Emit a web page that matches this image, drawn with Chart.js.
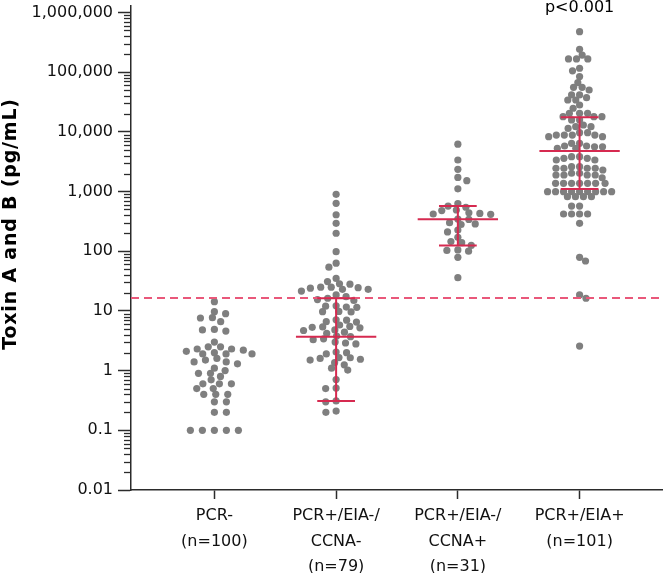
<!DOCTYPE html>
<html>
<head>
<meta charset="utf-8">
<script src="https://cdn.jsdelivr.net/npm/chart.js@4"></script>
<style>
  html, body { margin: 0; padding: 0; background: #fff; }
  #wrap { width: 666px; height: 573px; position: relative; }
</style>
</head>
<body>
<div id="wrap"><canvas id="myChart" width="666" height="573"></canvas></div>
<script>
// category labels (multi-line)
const categories = [
  ['PCR-', '(n=100)'],
  ['PCR+/EIA-/', 'CCNA-', '(n=79)'],
  ['PCR+/EIA-/', 'CCNA+', '(n=31)'],
  ['PCR+/EIA+', '(n=101)']
];

// toxin values (pg/mL)
const pcrNeg = [14.3, 9.7, 9.0, 7.7, 7.6, 6.6, 4.9, 4.8, 4.6, 3.0, 2.5, 2.5, 2.3, 2.3, 2.2, 2.1, 2.0,
  1.9, 1.9, 1.9, 1.6, 1.5, 1.4, 1.4, 1.3, 1.1, 1.0, 0.9, 0.9, 0.8, 0.7, 0.6, 0.6, 0.6, 0.5, 0.5,
  0.4, 0.4, 0.4, 0.3, 0.3, 0.2, 0.2, 0.1, 0.1, 0.1, 0.1, 0.1];
const eiaNegCcnaNeg = [898, 634, 408, 293, 200, 98, 63, 54, 35, 31, 28.5, 28, 25, 25, 24.5, 24, 23, 23,
  21.5, 18.5, 17.3, 16.3, 15.5, 15, 12.2, 12, 11.6, 11.5, 9.8, 9.7, 9.6, 7.1, 7.0, 6.6, 6.5, 5.8, 5.5,
  5.4, 5.3, 5.2, 4.8, 4.7, 4.4, 4.2, 3.8, 3.7, 3.4, 3.3, 3.0, 2.9, 2.8, 2.05, 2.0, 1.9, 1.65, 1.64,
  1.6, 1.55, 1.5, 1.36, 1.25, 1.1, 1.02, 0.71, 0.51, 0.5, 0.31, 0.3, 0.21, 0.2];
const eiaNegCcnaPos = [6200, 3370, 2350, 1720, 1520, 1110, 630, 571, 545, 490, 480, 440, 430, 420, 415,
  345, 340, 300, 286, 280, 226, 210, 171, 145, 139, 125, 105, 103, 100, 79, 36];
const eiaPos = [475000, 241000, 193000, 166000, 166000, 166000, 116000, 105000, 84000, 66500, 55600, 55600,
  50100, 41400, 41400, 37300, 34100, 34100, 28100, 24800, 20400, 20400, 20400, 17900, 17900, 17900,
  15800, 15800, 13000, 12200, 12200, 11400, 9660, 9660, 8830, 8830, 8830, 8830, 8280, 8280, 6410, 6410,
  5780, 5780, 5620, 5620, 5280, 5280, 3830, 3830, 3600, 3600, 3370, 3370, 2610, 2610, 2450, 2450, 2450,
  2450, 2290, 2020, 2020, 1890, 1890, 1890, 1890, 1700, 1370, 1370, 1370, 1370, 1370, 1370, 1370,
  993, 993, 993, 993, 993, 993, 993, 993, 993, 819, 819, 819, 819, 571, 571, 420, 420, 420, 420, 293,
  79, 68.5, 18.5, 16.3, 2.58];
const groups = [pcrNeg, eiaNegCcnaNeg, eiaNegCcnaPos, eiaPos];

// median and interquartile range (group 1 has none drawn)
const medians = [null, 3.7, 342, 4770];
const q1 = [null, 0.31, 124, 1100];
const q3 = [null, 16.3, 571, 17500];

const cutoff = 16.5;
const pValue = 'p<0.001';
const yTicks = [0.01, 0.1, 1, 10, 100, 1000, 10000, 100000, 1000000];

const X_MIN = 0.315, X_MAX = 4.677;
const RED = '#d62a50';
const DOT = '#7f7f7f';
const AXIS = '#2b2b2b';
const TICK_FONT = { family: 'DejaVu Sans', size: 16 };
const spread = [12, 10.5, 11, 8]; // horizontal dot spacing per column (px)

// greedy beeswarm in pixel space: elliptical spacing, never much closer than a dot
function swarm(values, yScale, dx, dy, dmin) {
  const need = d => {
    const e = Math.abs(d) < dy ? dx * Math.sqrt(1 - (d / dy) ** 2) : 0;
    const c = Math.abs(d) < dmin ? Math.sqrt(dmin * dmin - d * d) : 0;
    return Math.max(e, c);
  };
  const order = values.map((v, i) => i).sort((a, b) => values[b] - values[a]);
  const placed = [];
  const off = new Array(values.length).fill(0);
  order.forEach((i, k) => {
    const y = yScale.getPixelForValue(values[i]);
    const near = placed.filter(p => need(p.y - y) > 0);
    const cands = [0];
    near.forEach(p => {
      const w = need(p.y - y) + 0.01;
      cands.push(p.x + w, p.x - w);
    });
    cands.sort((a, b) => (Math.abs(a) - Math.abs(b)) || (k % 2 ? a - b : b - a));
    const ok = cands.find(c => near.every(p => Math.abs(c - p.x) >= need(p.y - y) - 0.001));
    placed.push({ x: ok, y });
    off[i] = ok;
  });
  return off;
}

function statLines() {
  const pts = [];
  for (let g = 0; g < groups.length; g++) {
    if (medians[g] == null) continue;
    const c = g + 1;
    pts.push({ x: c - 0.33, y: medians[g] }, { x: c + 0.33, y: medians[g] }, { x: c, y: null });
    pts.push({ x: c - 0.155, y: q3[g] }, { x: c + 0.155, y: q3[g] }, { x: c, y: null });
    pts.push({ x: c - 0.155, y: q1[g] }, { x: c + 0.155, y: q1[g] }, { x: c, y: null });
    pts.push({ x: c, y: q1[g] }, { x: c, y: q3[g] }, { x: c, y: null });
  }
  return pts;
}

const overlay = {
  id: 'overlay',
  afterDraw(chart) {
    const { ctx, chartArea, scales } = chart;
    const y = scales.y;
    ctx.save();
    // minor log ticks
    ctx.strokeStyle = AXIS;
    ctx.lineWidth = 1.3;
    for (let e = -2; e < 7; e++) {
      for (let k = 2; k < 10; k++) {
        const v = k * Math.pow(10, e);
        if (v > y.max) continue;
        const py = Math.round(y.getPixelForValue(v)) + 0.5;
        ctx.beginPath();
        ctx.moveTo(chartArea.left - 7, py);
        ctx.lineTo(chartArea.left, py);
        ctx.stroke();
      }
    }
    // y title
    ctx.fillStyle = '#000';
    ctx.font = 'bold 19px "DejaVu Sans"';
    ctx.letterSpacing = '0.8px';
    ctx.textAlign = 'center';
    ctx.textBaseline = 'middle';
    ctx.translate(11, (chartArea.top + chartArea.bottom) / 2 - 24);
    ctx.rotate(-Math.PI / 2);
    ctx.fillText('Toxin A and B (pg/mL)', 0, 0);
    ctx.restore();
    // p value above last column
    ctx.save();
    ctx.fillStyle = '#000';
    ctx.font = '16px "DejaVu Sans"';
    ctx.textAlign = 'center';
    ctx.textBaseline = 'middle';
    ctx.fillText(pValue, scales.x.getPixelForValue(groups.length), chartArea.top + 2);
    ctx.restore();
  }
};

const dotSets = groups.map((vals, g) => ({
  type: 'scatter',
  data: vals.map(v => ({ x: g + 1, y: v })),
  backgroundColor: DOT,
  borderWidth: 0,
  pointRadius: 3.6,
  order: 2
}));

const chart = new Chart(document.getElementById('myChart'), {
  type: 'scatter',
  data: {
    datasets: [
      {
        type: 'line', data: statLines(), borderColor: RED, borderWidth: 2,
        pointRadius: 0, spanGaps: false, fill: false, order: 0
      },
      {
        type: 'line', data: [{ x: X_MIN, y: cutoff }, { x: X_MAX, y: cutoff }],
        borderColor: '#e9587a', borderWidth: 2, borderDash: [8, 5], pointRadius: 0, fill: false, order: 1
      },
      ...dotSets
    ]
  },
  plugins: [overlay],
  options: {
    responsive: false,
    animation: false,
    layout: { padding: { top: 6, right: 0, left: 0, bottom: 0 } },
    plugins: { legend: { display: false }, tooltip: { enabled: false } },
    scales: {
      x: {
        type: 'linear', min: X_MIN, max: X_MAX,
        afterBuildTicks: s => { s.ticks = [1, 2, 3, 4].map(v => ({ value: v })); },
        afterFit: s => { s.height = 83; s.paddingLeft = 0; s.paddingRight = 0; },
        ticks: {
          callback: v => categories[v - 1], color: '#111',
          font: { family: 'DejaVu Sans', size: 16, lineHeight: 1.6 },
          autoSkip: false, maxRotation: 0, padding: 4
        },
        grid: { drawOnChartArea: false, drawTicks: true, tickLength: 9, tickColor: AXIS, tickWidth: 1.5 },
        border: { color: AXIS, width: 1.5 }
      },
      y: {
        type: 'logarithmic', min: 0.01, max: 1.28e6,
        afterBuildTicks: s => { s.ticks = yTicks.map(v => ({ value: v })); },
        afterFit: s => { s.width = 131; s.paddingTop = 0; s.paddingBottom = 0; },
        ticks: {
          callback: v => v.toLocaleString('en-US', { maximumFractionDigits: 2 }),
          color: '#111', font: TICK_FONT, padding: 5
        },
        grid: { drawOnChartArea: false, drawTicks: true, tickLength: 13, tickColor: AXIS, tickWidth: 1.5 },
        border: { color: AXIS, width: 1.5 }
      }
    }
  }
});

// second pass: lay out beeswarm offsets with the real scales
const xs = chart.scales.x, ys = chart.scales.y;
const pxPerUnit = xs.getPixelForValue(1) - xs.getPixelForValue(0);
groups.forEach((vals, g) => {
  const off = swarm(vals, ys, spread[g], 5.5, 6.3);
  chart.data.datasets[g + 2].data = vals.map((v, i) => ({ x: g + 1 + off[i] / pxPerUnit, y: v }));
});
chart.update('none');
</script>
</body>
</html>
